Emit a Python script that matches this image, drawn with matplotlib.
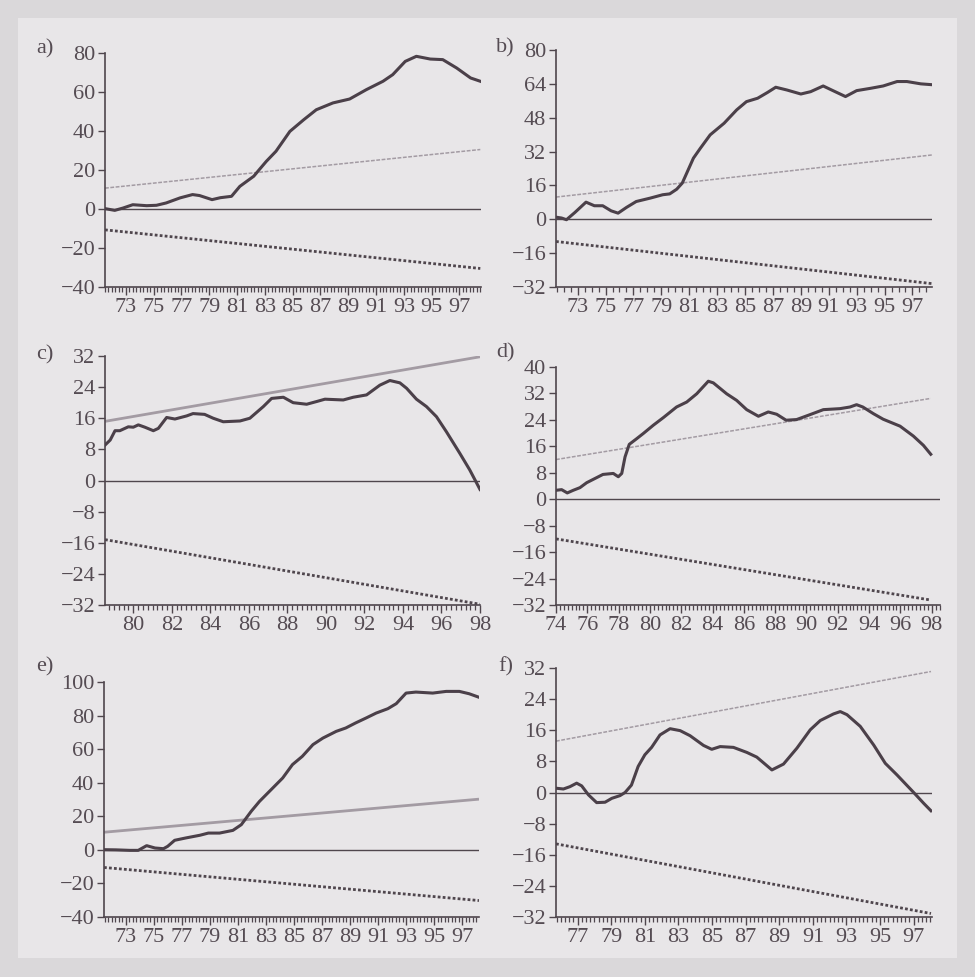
import matplotlib
matplotlib.use("Agg")
import matplotlib.pyplot as plt
from matplotlib.ticker import FixedLocator, MultipleLocator
from matplotlib.patches import Rectangle

plt.rcParams['font.family'] = ['Liberation Serif', 'DejaVu Serif']
plt.rcParams['axes.unicode_minus'] = True

# ---------------- data ----------------
# panel a
a_years = [71.5, 72.2, 72.8, 73.5, 74.5, 75.2, 75.9, 76.9, 77.8, 78.3, 79.2, 79.8, 80.6, 81.2,
           82.2, 82.6, 83.1, 83.8, 84.8, 85.8, 86.7, 87.9, 89.1, 90.3, 91.5, 92.2, 93.1, 93.9,
           94.9, 95.8, 96.8, 97.8, 98.5]
a_cusum = [0.2, -0.7, 0.5, 2.2, 1.7, 1.9, 3.1, 5.7, 7.4, 6.9, 4.8, 5.8, 6.5, 11.6,
           16.8, 20.2, 24.4, 29.6, 39.8, 45.8, 50.9, 54.4, 56.4, 61.2, 65.5, 68.9, 75.7, 78.3,
           76.9, 76.6, 72.3, 67.2, 65.5]
a_bound = [10.7, 30.5]

# panel b
b_years = [71.45, 71.85, 72.2, 72.8, 73.6, 74.2, 74.8, 75.4, 75.9, 76.5, 77.2, 78.2, 79.1, 79.6,
           80.1, 80.5, 81.3, 81.8, 82.5, 83.5, 84.4, 85.1, 85.9, 86.6, 87.2, 88.0, 89.0, 89.7,
           90.6, 91.3, 92.2, 93.0, 94.0, 94.9, 95.9, 96.6, 97.6, 98.4]
b_cusum = [1.0, 0.6, -0.2, 3.2, 8.1, 6.4, 6.4, 4.0, 2.9, 5.6, 8.4, 10.0, 11.6, 12.0,
           14.2, 17.1, 28.9, 33.6, 39.9, 45.4, 51.7, 55.6, 57.2, 59.9, 62.4, 61.1, 59.2, 60.3,
           63.0, 60.8, 58.0, 60.8, 61.9, 63.0, 65.1, 65.1, 64.0, 63.6]
b_bound = [10.5, 30.4]

# panel c
c_years = [78.53, 78.8, 79.05, 79.3, 79.74, 80.0, 80.26, 80.6, 81.04, 81.3, 81.73, 82.16, 82.77,
           83.1, 83.7, 84.15, 84.67, 85.54, 86.05, 86.75, 87.18, 87.79, 88.3, 89.0, 89.52, 89.95,
           90.9, 91.42, 92.11, 92.8, 93.32, 93.84, 94.19, 94.7, 95.22, 95.74, 96.26, 96.95,
           97.47, 98.0]
c_cusum = [9.1, 10.4, 12.8, 12.8, 13.8, 13.7, 14.3, 13.7, 12.8, 13.4, 16.2, 15.8, 16.6,
           17.2, 17.0, 16.0, 15.1, 15.3, 16.0, 19.0, 21.1, 21.4, 20.0, 19.6, 20.3, 20.9,
           20.7, 21.4, 22.0, 24.5, 25.7, 25.1, 23.7, 20.9, 19.0, 16.4, 12.5, 7.0,
           2.7, -2.3]
c_bound = [15.2, 31.8]

# panel d
d_years = [74.0, 74.36, 74.72, 75.1, 75.53, 75.96, 76.5, 77.0, 77.66, 77.98, 78.2, 78.41, 78.68,
           79.15, 79.58, 80.22, 80.86, 81.7, 82.35, 82.99, 83.73, 84.05, 84.9, 85.54, 86.18,
           86.93, 87.56, 88.1, 88.7, 89.37, 90.12, 91.08, 92.14, 92.78, 93.2, 93.6, 94.27,
           94.9, 95.98, 96.83, 97.47, 97.94]
d_cusum = [2.7, 2.9, 1.9, 2.7, 3.5, 5.0, 6.3, 7.5, 7.8, 6.8, 7.8, 12.8, 16.6,
           18.3, 19.9, 22.4, 24.7, 27.9, 29.4, 31.9, 35.7, 35.2, 31.9, 29.9, 27.1,
           25.1, 26.4, 25.7, 23.9, 24.1, 25.4, 27.1, 27.4, 27.9, 28.6, 27.9, 25.9,
           24.2, 22.1, 19.1, 16.3, 13.6]
d_bound = [12.0, 30.5]

# panel e
e_years = [71.46, 72.3, 73.3, 73.9, 74.5, 75.1, 75.7, 76.0, 76.5, 77.3, 78.3, 78.9, 79.7, 80.65,
           81.25, 81.96, 82.55, 83.5, 84.2, 84.9, 85.6, 86.36, 87.07, 88.02, 88.7, 89.4, 90.16,
           90.87, 91.7, 92.3, 93.0, 93.7, 94.9, 95.86, 96.8, 97.5, 98.2]
e_cusum = [0.1, 0.0, -0.3, -0.3, 2.5, 1.1, 0.7, 2.1, 5.7, 7.1, 8.7, 10.0, 10.0, 11.6,
           15.0, 23.0, 28.9, 36.9, 42.8, 50.8, 55.7, 62.7, 66.6, 70.6, 72.6, 75.6, 78.6,
           81.5, 84.1, 87.1, 93.4, 94.0, 93.4, 94.4, 94.4, 93.0, 90.9]
e_bound = [10.5, 30.2]

# panel f
f_years = [75.71, 76.15, 76.54, 76.94, 77.24, 77.64, 78.13, 78.63, 79.03, 79.52, 79.82, 80.2,
           80.6, 81.0, 81.4, 81.9, 82.5, 83.1, 83.69, 84.49, 84.98, 85.48, 86.27, 87.07, 87.66,
           88.56, 89.25, 90.05, 90.84, 91.44, 92.23, 92.63, 93.03, 93.82, 94.62, 95.31, 96.01,
           97.0, 97.6, 98.03]
f_cusum = [1.1, 0.9, 1.5, 2.4, 1.7, -0.6, -2.6, -2.5, -1.5, -0.8, 0.0, 1.9,
           6.7, 9.7, 11.6, 14.8, 16.4, 15.9, 14.6, 12.1, 11.1, 11.8, 11.6, 10.3, 9.1,
           5.8, 7.3, 11.4, 16.1, 18.5, 20.2, 20.8, 20.0, 17.0, 12.2, 7.5, 4.5,
           0.0, -2.8, -4.7]
f_bound = [13.2, 31.1]

# tick labels
a_xlabels = [73, 75, 77, 79, 81, 83, 85, 87, 89, 91, 93, 95, 97]
b_xlabels = [73, 75, 77, 79, 81, 83, 85, 87, 89, 91, 93, 95, 97]
c_xlabels = [80, 82, 84, 86, 88, 90, 92, 94, 96, 98]
d_xlabels = [74, 76, 78, 80, 82, 84, 86, 88, 90, 92, 94, 96, 98]
e_xlabels = [73, 75, 77, 79, 81, 83, 85, 87, 89, 91, 93, 95, 97]
f_xlabels = [77, 79, 81, 83, 85, 87, 89, 91, 93, 95, 97]

a_yticks = [-40, -20, 0, 20, 40, 60, 80]
b_yticks = [-32, -16, 0, 16, 32, 48, 64, 80]
c_yticks = [-32, -24, -16, -8, 0, 8, 16, 24, 32]
d_yticks = [-32, -24, -16, -8, 0, 8, 16, 24, 32, 40]
e_yticks = [-40, -20, 0, 20, 40, 60, 80, 100]
f_yticks = [-32, -24, -16, -8, 0, 8, 16, 24, 32]

panel_letters = ["a)", "b)", "c)", "d)", "e)", "f)"]

# ---------------- figure ----------------
W, H = 975, 977
fig = plt.figure(figsize=(W / 100, H / 100), dpi=100)
fig.patch.set_facecolor('#dad8da')
fig.patches.append(Rectangle((18 / W, 1 - 958 / H), (957 - 18) / W, (958 - 18) / H,
                             transform=fig.transFigure, facecolor='#e8e6e8',
                             edgecolor='none', zorder=-10))

CURVE = '#4b4049'
DARK = '#4f464d'
LIGHT = '#a39ba3'
TEXT = '#554c53'
FS = 16

def make_axes(px_left, px_right, px_top, px_bottom):
    return fig.add_axes([px_left / W, 1 - px_bottom / H,
                         (px_right - px_left) / W, (px_bottom - px_top) / H])

panels = [
    dict(rect=(105, 481, 53, 287), xlim=(71.5, 98.55), years=a_years, cusum=a_cusum,
         bound=a_bound, xl=a_xlabels, yt=a_yticks, solid_upper=False, minor=0.25,
         lab=(45, 49)),
    dict(rect=(556, 932, 50, 287), xlim=(71.45, 98.4), years=b_years, cusum=b_cusum,
         bound=b_bound, xl=b_xlabels, yt=b_yticks, solid_upper=False, minor=0.5,
         lab=(505, 48)),
    dict(rect=(105, 480, 356, 605), xlim=(78.53, 98.0), years=c_years, cusum=c_cusum,
         bound=c_bound, xl=c_xlabels, yt=c_yticks, solid_upper=True, minor=0.25,
         lab=(45, 355)),
    dict(rect=(556, 940, 367, 605), xlim=(74.0, 98.53), years=d_years, cusum=d_cusum,
         bound=d_bound, xl=d_xlabels, yt=d_yticks, solid_upper=False, minor=0.25,
         lab=(505, 353)),
    dict(rect=(104, 479, 682, 917), xlim=(71.46, 98.2), years=e_years, cusum=e_cusum,
         bound=e_bound, xl=e_xlabels, yt=e_yticks, solid_upper=True, minor=0.25,
         lab=(45, 667)),
    dict(rect=(556, 932, 668, 917), xlim=(75.71, 98.09), years=f_years, cusum=f_cusum,
         bound=f_bound, xl=f_xlabels, yt=f_yticks, solid_upper=False, minor=0.25,
         lab=(506, 667)),
]

for p, letter in zip(panels, panel_letters):
    ax = make_axes(*p['rect'])
    ax.set_zorder(2)
    ax.set_facecolor('none')
    x0, x1 = p['xlim']
    ax.set_xlim(x0, x1)
    ax.set_ylim(p['yt'][0], p['yt'][-1])
    yrs = p['years']
    lo, hi = p['bound']
    # zero line
    ax.axhline(0, color=DARK, lw=1.0, zorder=2)
    # bounds
    if p['solid_upper']:
        ax.plot([yrs[0], yrs[-1]], [lo, hi], color=LIGHT, lw=2.0, zorder=2,
                solid_capstyle='butt')
    else:
        ax.plot([yrs[0], yrs[-1]], [lo, hi], color=LIGHT, lw=1.1, zorder=2,
                linestyle=(0, (2.5, 1)))
    ax.plot([yrs[0], yrs[-1]], [-lo, -hi], color=DARK, lw=2.0, zorder=2,
            linestyle=(0, (1, 0.8)))
    # cusum curve
    ax.plot(yrs, p['cusum'], color=CURVE, lw=2.2, zorder=3, solid_joinstyle='round')

    for s in ['top', 'right']:
        ax.spines[s].set_visible(False)
    for s in ['left', 'bottom']:
        ax.spines[s].set_color(DARK)
        ax.spines[s].set_linewidth(1.2)

    ax.xaxis.set_major_locator(FixedLocator(p['xl']))
    ax.set_xticklabels([str(v) for v in p['xl']])
    ax.xaxis.set_minor_locator(MultipleLocator(p['minor']))
    ax.set_yticks(p['yt'])
    ax.set_yticklabels([str(v).replace('-', '\u2212') for v in p['yt']])
    ax.tick_params(axis='x', which='major', direction='out', length=6, width=1.0,
                   color=DARK, labelsize=FS, labelcolor=TEXT, pad=2)
    ax.tick_params(axis='x', which='minor', direction='out', length=3.5, width=0.9,
                   color=DARK)
    ax.tick_params(axis='y', direction='out', length=5, width=1.0, color=DARK,
                   labelsize=FS, labelcolor=TEXT, pad=2)
    fig.text(p['lab'][0] / W, 1 - p['lab'][1] / H, letter, fontsize=FS,
             color=TEXT, ha='center', va='center')

fig.savefig('out.png', dpi=100, facecolor=fig.get_facecolor())
